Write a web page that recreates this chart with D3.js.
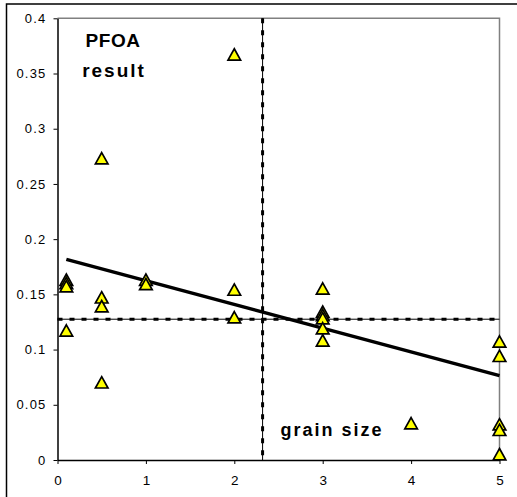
<!DOCTYPE html>
<html>
<head>
<meta charset="utf-8">
<script src="https://cdn.jsdelivr.net/npm/d3@7"></script>
<style>
  html, body { margin: 0; padding: 0; background: #fff; }
  svg { display: block; }
  text { font-family: "Liberation Sans", Arial, sans-serif; fill: #000; }
</style>
</head>
<body>
<svg id="chart" width="517" height="497"></svg>
<script>
// ---- data ----
const grainSize = [0.1, 0.1, 0.1, 0.1, 0.5, 0.5, 0.5, 0.5, 1, 1, 2, 2, 2, 3, 3, 3, 3, 3, 3, 4, 5, 5, 5, 5, 5];
const pfoaResult = [0.163, 0.160, 0.157, 0.117, 0.273, 0.147, 0.139, 0.070, 0.163, 0.159, 0.367, 0.154, 0.129, 0.155, 0.134, 0.131, 0.128, 0.119, 0.108, 0.033, 0.107, 0.094, 0.032, 0.027, 0.005];
const trendX = [0.1, 5];
const trendY = [0.1817, 0.0764];
const refX = 2.32;   // vertical dashed line (mean grain size)
const refY = 0.1275; // horizontal dashed line (mean result)
const xTicks = [0, 1, 2, 3, 4, 5];
const yTicks = [0, 0.05, 0.1, 0.15, 0.2, 0.25, 0.3, 0.35, 0.4];
const yTickLabels = ["0", "0.05", "0.1", "0.15", "0.2", "0.25", "0.3", "0.35", "0.4"];

const svg = d3.select("#chart");

// outer chart border
svg.append("rect").attr("x", 6.5).attr("y", 4).attr("width", 700).attr("height", 700)
  .attr("fill", "none").attr("stroke", "#000").attr("stroke-width", 1.5);

const x = d3.scaleLinear().domain([0, 5]).range([57.5, 499.5]);
const y = d3.scaleLinear().domain([0, 0.4]).range([460, 18.3]);

// plot-area frame (top & right gray)
svg.append("path")
  .attr("d", `M${x(0)},${y(0.4)}H${x(5)}V${y(0)}`)
  .attr("fill", "none").attr("stroke", "#808080").attr("stroke-width", 1.5);

// y axis
const yAxis = svg.append("g").attr("transform", `translate(${x(0)},0)`)
  .call(d3.axisLeft(y).tickValues(yTicks).tickSize(4).tickSizeOuter(0).tickPadding(7)
    .tickFormat((d, i) => yTickLabels[i]));
yAxis.select(".domain").attr("stroke", "#000").attr("stroke-width", 1.5);
yAxis.selectAll(".tick line").attr("stroke", "#000");
yAxis.selectAll("text").attr("font-size", 13).attr("letter-spacing", "1.2px")
  .attr("font-family", "Liberation Sans, Arial, sans-serif");

// x axis
const xAxis = svg.append("g").attr("transform", `translate(0,${y(0)})`)
  .call(d3.axisBottom(x).tickValues(xTicks).tickSize(4).tickSizeOuter(0).tickPadding(11)
    .tickFormat(d3.format("d")));
xAxis.select(".domain").attr("stroke", "#000").attr("stroke-width", 1.5);
xAxis.selectAll(".tick line").attr("stroke", "#000");
xAxis.selectAll("text").attr("font-size", 13.5)
  .attr("font-family", "Liberation Sans, Arial, sans-serif");

// reference dashed lines
function refLine(x1, y1, x2, y2) {
  svg.append("line").attr("x1", x1).attr("y1", y1).attr("x2", x2).attr("y2", y2)
    .attr("stroke", "#000").attr("stroke-width", 1);
  svg.append("line").attr("x1", x1).attr("y1", y1).attr("x2", x2).attr("y2", y2)
    .attr("stroke", "#000").attr("stroke-width", 3).attr("stroke-dasharray", "5,7");
}
refLine(x(refX), y(0.4), x(refX), y(0));
refLine(x(0), y(refY), x(5), y(refY));

// trend line
svg.append("path")
  .datum(trendX.map((v, i) => [v, trendY[i]]))
  .attr("d", d3.line().x(d => x(d[0])).y(d => y(d[1])))
  .attr("fill", "none").attr("stroke", "#000").attr("stroke-width", 3.5);

// triangle markers
const tri = "M0,-6L6.3,5.3L-6.3,5.3Z";
svg.append("g").selectAll("path")
  .data(grainSize.map((v, i) => [v, pfoaResult[i]]))
  .join("path")
  .attr("d", tri)
  .attr("transform", d => `translate(${x(d[0])},${y(d[1])})`)
  .attr("fill", "#ffff00").attr("stroke", "#000").attr("stroke-width", 1.7)
  .attr("stroke-linejoin", "miter");

// annotations
svg.append("text").attr("x", 113).attr("y", 47).attr("text-anchor", "middle")
  .attr("font-size", 19).attr("font-weight", "bold").attr("letter-spacing", "0.5px").text("PFOA");
svg.append("text").attr("x", 114).attr("y", 77).attr("text-anchor", "middle")
  .attr("font-size", 19).attr("font-weight", "bold").attr("letter-spacing", "2px").text("result");
svg.append("text").attr("x", 332).attr("y", 435.5).attr("text-anchor", "middle")
  .attr("font-size", 18).attr("font-weight", "bold").attr("letter-spacing", "2px").text("grain size");
</script>
</body>
</html>
